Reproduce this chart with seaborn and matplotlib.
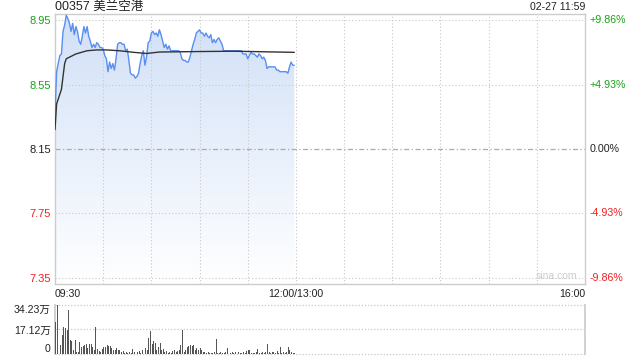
import numpy as np
import matplotlib
matplotlib.use("Agg")
import matplotlib.pyplot as plt
import seaborn as sns
import pandas as pd

# ---------------- data ----------------
title = "00357 美兰空港"
stamp = "02-27 11:59"
prev_close = 8.15
price_ticks = [8.95, 8.55, 8.15, 7.75, 7.35]
pct_labels = ["+9.86%", "+4.93%", "0.00%", "-4.93%", "-9.86%"]
time_labels = ["09:30", "12:00/13:00", "16:00"]
vol_tick_vals = [0, 17.12, 34.23]
vol_tick_labels = ["0", "17.12万", "34.23万"]

price = [8.36, 8.63, 8.68, 8.73, 8.74, 8.88, 8.92, 8.98, 8.96, 8.93,
         8.88, 8.93, 8.86, 8.91, 8.88, 8.82, 8.80, 8.85, 8.91, 8.87,
         8.91, 8.85, 8.82, 8.78, 8.80, 8.78, 8.81, 8.80, 8.78, 8.78,
         8.77, 8.73, 8.71, 8.63, 8.69, 8.65, 8.68, 8.64, 8.71, 8.80,
         8.81, 8.81, 8.80, 8.80, 8.76, 8.77, 8.70, 8.62, 8.61, 8.61,
         8.59, 8.60, 8.62, 8.68, 8.73, 8.76, 8.67, 8.72, 8.81, 8.82,
         8.87, 8.88, 8.86, 8.87, 8.85, 8.89, 8.86, 8.82, 8.78, 8.80,
         8.77, 8.79, 8.76, 8.76, 8.76, 8.76, 8.76, 8.76, 8.75, 8.71,
         8.70, 8.70, 8.69, 8.69, 8.72, 8.76, 8.80, 8.83, 8.87, 8.88,
         8.89, 8.87, 8.87, 8.85, 8.87, 8.85, 8.84, 8.86, 8.81, 8.83,
         8.81, 8.83, 8.84, 8.82, 8.80, 8.76, 8.76, 8.76, 8.76, 8.76,
         8.76, 8.76, 8.76, 8.76, 8.76, 8.76, 8.76, 8.74, 8.74, 8.74,
         8.71, 8.73, 8.75, 8.74, 8.74, 8.73, 8.72, 8.74, 8.73, 8.71,
         8.72, 8.70, 8.65, 8.66, 8.66, 8.66, 8.66, 8.66, 8.64, 8.64,
         8.63, 8.63, 8.63, 8.63, 8.63, 8.62, 8.66, 8.69, 8.67, 8.67]

avg_minute = [0, 1, 4, 6, 7, 13, 20, 26, 32, 40, 49, 57, 65, 90, 111, 149]
avg_price = [8.27, 8.43, 8.52, 8.68, 8.71, 8.74, 8.76, 8.765, 8.765, 8.76,
             8.75, 8.743, 8.752, 8.755, 8.757, 8.75]

volume = [22.6, 34.2, 9.8, 6.3, 13.3, 19.1, 18.4, 16.8, 30.7, 9.8,
          9.2, 2.8, 9.8, 1.6, 1.6, 8.6, 5.1, 5.6, 6.3, 6.8,
          4.0, 7.0, 7.2, 5.1, 2.8, 19.1, 3.5, 2.1, 1.6, 3.5,
          4.7, 5.1, 6.3, 5.8, 5.6, 4.0, 2.8, 3.0, 4.0, 2.8,
          2.8, 1.6, 2.1, 0.9, 1.2, 0.5, 1.6, 0.9, 3.3, 1.6,
          9.8, 1.6, 2.1, 0.9, 2.8, 1.6, 4.4, 2.8, 10.9, 16.3,
          6.8, 9.1, 7.5, 2.8, 5.1, 7.5, 2.8, 3.3, 1.6, 2.1,
          0.9, 1.6, 0.5, 2.1, 2.8, 1.6, 2.1, 2.6, 6.3, 16.8,
          1.6, 2.8, 5.1, 5.6, 6.3, 5.6, 6.3, 2.8, 4.0, 2.8,
          4.0, 2.8, 1.6, 1.2, 0.9, 1.6, 0.9, 0.9, 0.9, 1.6,
          10.5, 0.9, 0.5, 1.6, 0.5, 0.9, 1.6, 4.4, 0.9, 0.5,
          1.6, 0.9, 1.6, 0.5, 1.6, 0.9, 0.5, 1.6, 0.9, 2.1,
          2.8, 2.8, 0.9, 0.5, 0.9, 1.6, 3.3, 0.9, 0.5, 1.6,
          0.9, 1.6, 6.8, 1.6, 0.9, 1.6, 1.6, 0.9, 2.1, 0.9,
          4.9, 0.9, 1.6, 0.9, 1.6, 5.1, 2.8, 1.6, 0.9, 0.5]

# ---------------- style ----------------
sns.set_theme(style="white")
plt.rcParams['font.family'] = ['Liberation Sans', 'Noto Sans CJK SC', 'DejaVu Sans']

GREEN = "#1aa01a"
RED = "#f02020"
BLUE = "#5a8ef0"
GRIDC = "#c8c8c8"
SPINE = "#cccccc"
TXT = "#222222"

fig = plt.figure(figsize=(6.4, 3.6), dpi=100)
ax = fig.add_axes([55/640, 1-284/360, 530/640, 270/360])
axv = fig.add_axes([55/640, 1-354/360, 530/640, 49/360])

minutes = np.arange(len(price))
df = pd.DataFrame({"minute": minutes, "price": price})
dfa = pd.DataFrame({"minute": avg_minute, "avg": avg_price})

ymin, ymax = 7.312, 8.988
ax.set_xlim(0, 330)
ax.set_ylim(ymin, ymax)

# gradient fill under price line
poly = ax.fill_between(df["minute"], df["price"], ymin, color="none", lw=0)
grad = np.linspace(1, 0, 256).reshape(-1, 1)
top_c = np.array([0.82, 0.88, 0.97])
bot_c = np.array([1.0, 1.0, 1.0])
img = top_c[None, None, :] * grad[:, :, None] + bot_c[None, None, :] * (1 - grad[:, :, None])
im = ax.imshow(img, extent=[0, 330, ymin, 8.98], aspect="auto", origin="upper", zorder=1)
path = poly.get_paths()[0]
im.set_clip_path(path, transform=ax.transData)

# grid lines
for i in range(1, 11):
    ax.axvline(i * 30, color=GRIDC, lw=0.8, ls=(0, (1, 2)), zorder=2)
for v in price_ticks:
    if v == prev_close:
        ax.axhline(v, color="#aaaaaa", lw=0.9, ls=(0, (4, 2, 1, 2)), zorder=2)
    else:
        ax.axhline(v, color=GRIDC, lw=0.8, ls=(0, (1, 2)), zorder=2)

sns.lineplot(data=df, x="minute", y="price", ax=ax, color=BLUE, lw=1.0, zorder=3)
sns.lineplot(data=dfa, x="minute", y="avg", ax=ax, color="#333333", lw=1.0, zorder=4)

ax.set_xlabel("")
ax.set_ylabel("")
ax.set_yticks(price_ticks)
ax.set_yticklabels([f"{v:.2f}" for v in price_ticks])
cols = [GREEN, GREEN, TXT, RED, RED]
for lab, c in zip(ax.get_yticklabels(), cols):
    lab.set_color(c)
ax.tick_params(axis="y", length=0, pad=3, labelsize=8)
ax.set_xticks([])
for s in ax.spines.values():
    s.set_color(SPINE)
    s.set_linewidth(1.0)

# right percentage labels
for v, t, c in zip(price_ticks, pct_labels, cols):
    ax.text(1.008, v, t, transform=ax.get_yaxis_transform(), ha="left",
            va="center", fontsize=7.7, color=c)

# time labels
ax.text(0, -0.018, time_labels[0], transform=ax.transAxes, ha="left", va="top", fontsize=7.6, color=TXT)
ax.text(150/330, -0.018, time_labels[1], transform=ax.transAxes, ha="center", va="top", fontsize=7.6, color=TXT)
ax.text(1, -0.018, time_labels[2], transform=ax.transAxes, ha="right", va="top", fontsize=7.6, color=TXT)

# title & stamp
fig.text(55/640, 1-7/360, title, ha="left", va="center", fontsize=9, color=TXT)
fig.text(585/640, 1-7/360, stamp, ha="right", va="center", fontsize=7.6, color=TXT)
ax.text(0.985, 0.012, "sina.com", transform=ax.transAxes, ha="right", va="bottom",
        fontsize=7.5, color="#cccccc")

# ---------------- volume ----------------
axv.bar(np.arange(len(volume)), volume, width=0.6, color="#555555", linewidth=0, zorder=3)
axv.set_xlim(-0.5, 330)
axv.set_ylim(0, 34.23)
for v in vol_tick_vals:
    axv.axhline(v, color=GRIDC, lw=0.9, ls=(0, (1, 1.5)), zorder=0.5, clip_on=False)
axv.set_xticks([])
axv.set_yticks(vol_tick_vals)
axv.set_yticklabels(vol_tick_labels)
axv.tick_params(axis="y", length=0, pad=3, labelsize=7.6, labelcolor=TXT)
labs = axv.get_yticklabels()
labs[0].set_va("bottom")
labs[2].set_va("top")
axv.spines["top"].set_visible(False)
axv.spines["bottom"].set_visible(False)
axv.spines["left"].set_color(SPINE)
axv.spines["right"].set_color(SPINE)

fig.savefig("out.png", dpi=100)
